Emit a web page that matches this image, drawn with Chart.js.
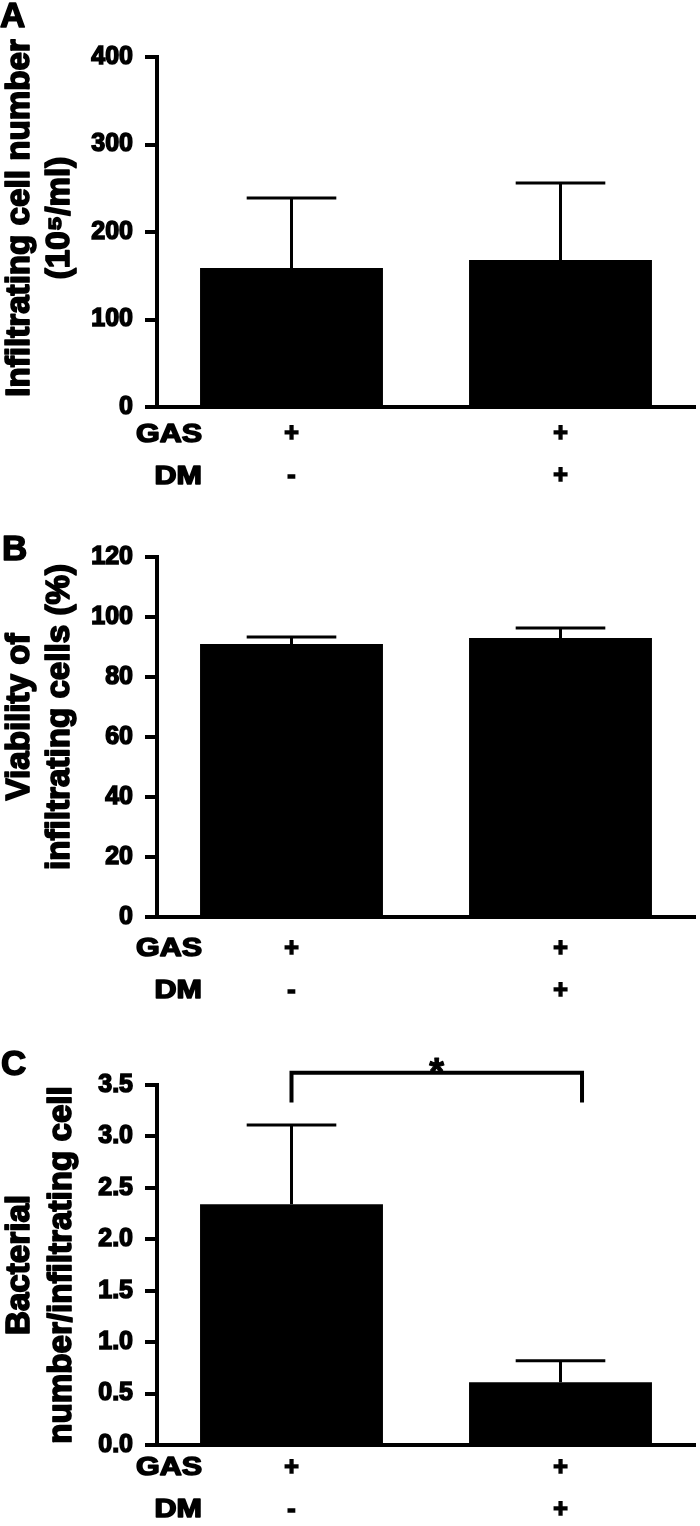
<!DOCTYPE html>
<html>
<head>
<meta charset="utf-8">
<script src="https://cdn.jsdelivr.net/npm/chart.js@4.4.1/dist/chart.umd.min.js"></script>
<style>
  html, body { margin: 0; padding: 0; background: #fff; }
  canvas { display: block; }
</style>
</head>
<body>
<canvas id="cA" width="700" height="500"></canvas>
<canvas id="cB" width="700" height="505"></canvas>
<canvas id="cC" width="700" height="521"></canvas>
<script>
// ---- data ----
const categories = [['+', '-'], ['+', '+']];
const rowLabels = ['GAS', 'DM'];

const cellNumberMean = [159, 168];
const cellNumberSem  = [80, 88];
const cellNumberTicks = [0, 100, 200, 300, 400];

const viabilityMean = [91, 93];
const viabilitySem  = [2.3, 3.3];
const viabilityTicks = [0, 20, 40, 60, 80, 100, 120];

const bacteriaMean = [2.34, 0.61];
const bacteriaSem  = [0.77, 0.21];
const bacteriaTicks = [0, 0.5, 1.0, 1.5, 2.0, 2.5, 3.0, 3.5];

const titleA = ['Infiltrating cell number', '(10\u2075/ml)'];
const titleB = ['Viability of', 'infiltrating cells (%)'];
const titleC = ['Bacterial', 'number/infiltrating cell'];

// significance annotation for panel C (category index from/to, value levels)
const sigC = { text: '*', from: 0, to: 1.08, top: 3.62, leg: 3.33 };

// ---- styling ----
const FONT = '"Liberation Sans", Arial, Helvetica, sans-serif';

function boldText(ctx, text, x, y, sw) {
  ctx.lineWidth = sw;
  ctx.strokeStyle = '#000';
  ctx.lineJoin = 'round';
  ctx.strokeText(text, x, y);
  ctx.fillText(text, x, y);
}

const errorBarPlugin = {
  id: 'errorBars',
  afterDatasetsDraw(chart, args, opts) {
    const { ctx } = chart;
    const x = chart.scales.x, y = chart.scales.y;
    const meta = chart.getDatasetMeta(0);
    const data = chart.data.datasets[0].data;
    ctx.save();
    ctx.strokeStyle = '#000';
    ctx.lineWidth = 3;
    data.forEach((v, i) => {
      const bar = meta.data[i];
      const cx = x.getPixelForValue(i);
      const yb = y.getPixelForValue(v);
      const yt = y.getPixelForValue(v + opts.sem[i]);
      const half = bar.width * 0.245;
      ctx.beginPath();
      ctx.moveTo(cx, yb);
      ctx.lineTo(cx, yt);
      ctx.moveTo(cx - half, yt);
      ctx.lineTo(cx + half, yt);
      ctx.stroke();
    });
    ctx.restore();
  }
};

const decorPlugin = {
  id: 'decor',
  afterDraw(chart, args, opts) {
    const { ctx, chartArea } = chart;
    const x = chart.scales.x, y = chart.scales.y;
    ctx.save();
    ctx.fillStyle = '#000';
    // panel letter
    ctx.font = 'bold 35px ' + FONT;
    ctx.textAlign = 'left';
    ctx.textBaseline = 'alphabetic';
    boldText(ctx, opts.letter, opts.letterX, opts.letterY, 1.5);
    // y-axis title (rotated, two lines)
    ctx.font = 'bold 31px ' + FONT;
    ctx.textAlign = 'center';
    ctx.textBaseline = 'middle';
    opts.title.forEach((line, k) => {
      ctx.save();
      ctx.translate(opts.titleX[k], opts.titleY);
      ctx.rotate(-Math.PI / 2);
      ctx.scale(1.07, 1.05);
      boldText(ctx, line, 0, 0, 1.6);
      ctx.restore();
    });
    // row labels (GAS / DM)
    ctx.font = 'bold 25px ' + FONT;
    ctx.textAlign = 'right';
    ctx.textBaseline = 'middle';
    rowLabels.forEach((lab, k) => {
      ctx.save();
      ctx.translate(202, chartArea.bottom + opts.rowOffset + k * 42);
      ctx.scale(1.22, 1);
      boldText(ctx, lab, 0, 0, 1.5);
      ctx.restore();
    });
    // significance bracket
    if (opts.sig) {
      const s = opts.sig;
      const x1 = x.getPixelForValue(s.from), x2 = x.getPixelForValue(s.to);
      const yt = y.getPixelForValue(s.top), yl = y.getPixelForValue(s.leg);
      ctx.strokeStyle = '#000';
      ctx.lineWidth = 4;
      ctx.lineJoin = 'miter';
      ctx.beginPath();
      ctx.moveTo(x1, yl);
      ctx.lineTo(x1, yt);
      ctx.lineTo(x2, yt);
      ctx.lineTo(x2, yl);
      ctx.stroke();
      ctx.font = 'bold 38px ' + FONT;
      ctx.textAlign = 'center';
      ctx.textBaseline = 'alphabetic';
      boldText(ctx, s.text, (x1 + x2) / 2, yt + 12, 1);
    }
    ctx.restore();
  }
};

function makeChart(id, cfg) {
  return new Chart(document.getElementById(id), {
    type: 'bar',
    data: {
      labels: categories,
      datasets: [{
        data: cfg.mean,
        backgroundColor: '#000',
        borderColor: '#000',
        borderWidth: 0,
        categoryPercentage: 1.0,
        barPercentage: 0.68
      }]
    },
    options: {
      responsive: false,
      animation: false,
      layout: { padding: { top: cfg.top, right: 5, left: 0, bottom: 0 } },
      plugins: {
        legend: { display: false },
        tooltip: { enabled: false },
        errorBars: { sem: cfg.sem },
        decor: cfg.decor
      },
      scales: {
        x: {
          offset: true,
          grid: { display: false, drawTicks: false },
          border: { display: true, color: '#000', width: 4 },
          ticks: {
            color: '#000',
            textStrokeColor: '#000',
            textStrokeWidth: 1.5,
            padding: cfg.xPad,
            font: { family: FONT, size: 25, weight: 'bold', lineHeight: '42px' }
          },
          afterFit(s) { s.height = cfg.xHeight; }
        },
        y: {
          min: 0,
          max: cfg.ticks[cfg.ticks.length - 1],
          afterBuildTicks(s) { s.ticks = cfg.ticks.map(v => ({ value: v })); },
          grid: { drawOnChartArea: false, drawTicks: true, tickLength: 12, lineWidth: 4, color: '#000' },
          border: { display: true, color: '#000', width: 4 },
          ticks: {
            color: '#000',
            textStrokeColor: '#000',
            textStrokeWidth: 1.5,
            padding: 12,
            font: { family: FONT, size: 25, weight: 'bold' },
            callback: cfg.fmt
          },
          afterFit(s) { s.width = 157; }
        }
      }
    },
    plugins: [errorBarPlugin, decorPlugin]
  });
}

makeChart('cA', {
  mean: cellNumberMean, sem: cellNumberSem, ticks: cellNumberTicks,
  top: 57, xHeight: 93, xPad: 6,
  fmt: v => String(v),
  decor: { letter: 'A', letterX: 0, letterY: 27, title: titleA, titleX: [20, 60], titleY: 218, rowOffset: 28 }
});

makeChart('cB', {
  mean: viabilityMean, sem: viabilitySem, ticks: viabilityTicks,
  top: 57, xHeight: 88, xPad: 11,
  fmt: v => String(v),
  decor: { letter: 'B', letterX: 2, letterY: 60, title: titleB, titleX: [20, 60], titleY: 217, rowOffset: 32 }
});

makeChart('cC', {
  mean: bacteriaMean, sem: bacteriaSem, ticks: bacteriaTicks,
  top: 80, xHeight: 81, xPad: 2,
  fmt: v => Number(v).toFixed(1),
  decor: { letter: 'C', letterX: 1, letterY: 70, title: titleC, titleX: [20, 62], titleY: 260, rowOffset: 23, sig: sigC }
});
</script>
</body>
</html>
